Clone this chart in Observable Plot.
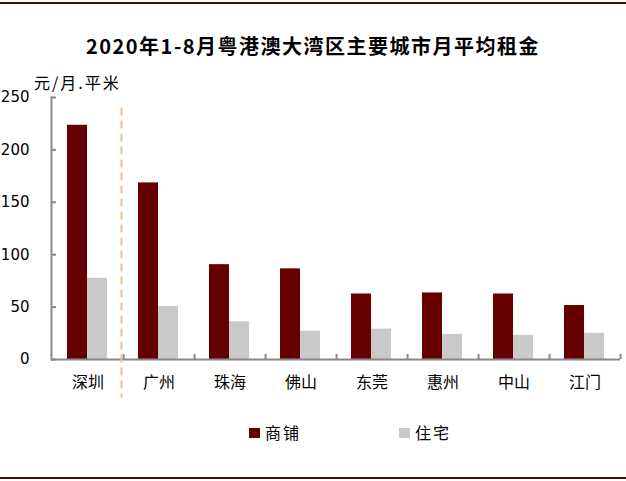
<!DOCTYPE html>
<html>
<head>
<meta charset="utf-8">
<script src="https://cdn.jsdelivr.net/npm/d3@7"></script>
<script src="https://cdn.jsdelivr.net/npm/@observablehq/plot@0.6"></script>
<style>
  body { margin: 0; background: #fff; }
  #wrap { position: relative; width: 626px; height: 481px; overflow: hidden; font-family: "Noto Sans CJK SC", sans-serif; }
  #wrap svg { position: absolute; left: 0; top: 0; }
  .topline, .botline { position: absolute; left: 0; width: 626px; height: 2px; background: #4a0c0c; }
  .topline { top: 2px; }
  .botline { top: 477px; }
  .title { position: absolute; left: 0; width: 626px; top: 33px; text-align: center; font-size: 20px; font-weight: bold; letter-spacing: 1.5px; color: #000; line-height: 26px; }
  .unit { position: absolute; left: 34px; top: 71px; font-size: 16px; letter-spacing: 2px; color: #000; line-height: 22px; }
  .leg { position: absolute; top: 421px; font-size: 16px; letter-spacing: 2px; line-height: 22px; color: #000; }
  .sw { position: absolute; width: 11px; height: 10px; top: 428px; }
</style>
</head>
<body>
<div id="wrap"></div>
<script>
const cities = ["深圳", "广州", "珠海", "佛山", "东莞", "惠州", "中山", "江门"];
const seriesNames = ["商铺", "住宅"];
const shopRent = [223.5, 168.5, 90.5, 86.5, 62.5, 63.5, 62.5, 51.5];
const homeRent = [77.5, 50.5, 36, 27, 29, 24, 23, 25];
const yTicks = [0, 50, 100, 150, 200, 250];
const titleText = "2020年1-8月粤港澳大湾区主要城市月平均租金";
const unitText = "元/月.平米";
const colors = ["#660000", "#c9c9c9"];

const shopData = cities.map((c, i) => ({city: c, v: shopRent[i]}));
const homeData = cities.map((c, i) => ({city: c, v: homeRent[i]}));

const axisColor = "#898989";
const chart = Plot.plot({
  width: 626,
  height: 481,
  marginLeft: 51,
  marginRight: 6,
  marginTop: 97,
  marginBottom: 122,
  x: {domain: cities, padding: 0, axis: null},
  y: {domain: [0, 250], axis: null},
  marks: [
    Plot.barY(shopData, {x: "city", y: "v", fill: colors[0], insetLeft: 15, insetRight: 36}),
    Plot.barY(homeData, {x: "city", y: "v", fill: colors[1], insetLeft: 35, insetRight: 16}),
    Plot.ruleY([0], {stroke: axisColor, strokeWidth: 2}),
    Plot.frame({anchor: "left", stroke: axisColor, strokeWidth: 2}),
    Plot.tickY(yTicks, {y: d => d, stroke: axisColor, strokeWidth: 2, insetRight: 564}),
    Plot.ruleX(cities, {x: d => d, dx: 35.56, y1: 0, y2: 4.8, stroke: axisColor, strokeWidth: 2}),
    Plot.ruleX([cities[0]], {x: d => d, dx: 33.5, y1: 240, y2: -37, stroke: "#f8bc8c", strokeWidth: 2, strokeDasharray: "8,5"}),
    Plot.axisY({ticks: yTicks, tickSize: 0, tickPadding: 22, fontSize: 15, fontFamily: "DejaVu Sans", color: "#000", label: null}),
    Plot.axisX({tickSize: 0, tickPadding: 17, fontSize: 16, fontFamily: "Noto Sans CJK SC", color: "#000", label: null})
  ]
});
const wrap = document.getElementById("wrap");
wrap.appendChild(chart);

function addDiv(cls, text, style) {
  const d = document.createElement("div");
  d.className = cls;
  if (text) d.textContent = text;
  if (style) Object.assign(d.style, style);
  wrap.appendChild(d);
}
addDiv("topline");
addDiv("botline");
addDiv("title", titleText);
addDiv("unit", unitText);
const legX = [249, 399];
seriesNames.forEach((s, i) => {
  addDiv("sw", null, {left: legX[i] + "px", background: colors[i]});
  addDiv("leg", s, {left: (legX[i] + 16) + "px"});
});
</script>
</body>
</html>
